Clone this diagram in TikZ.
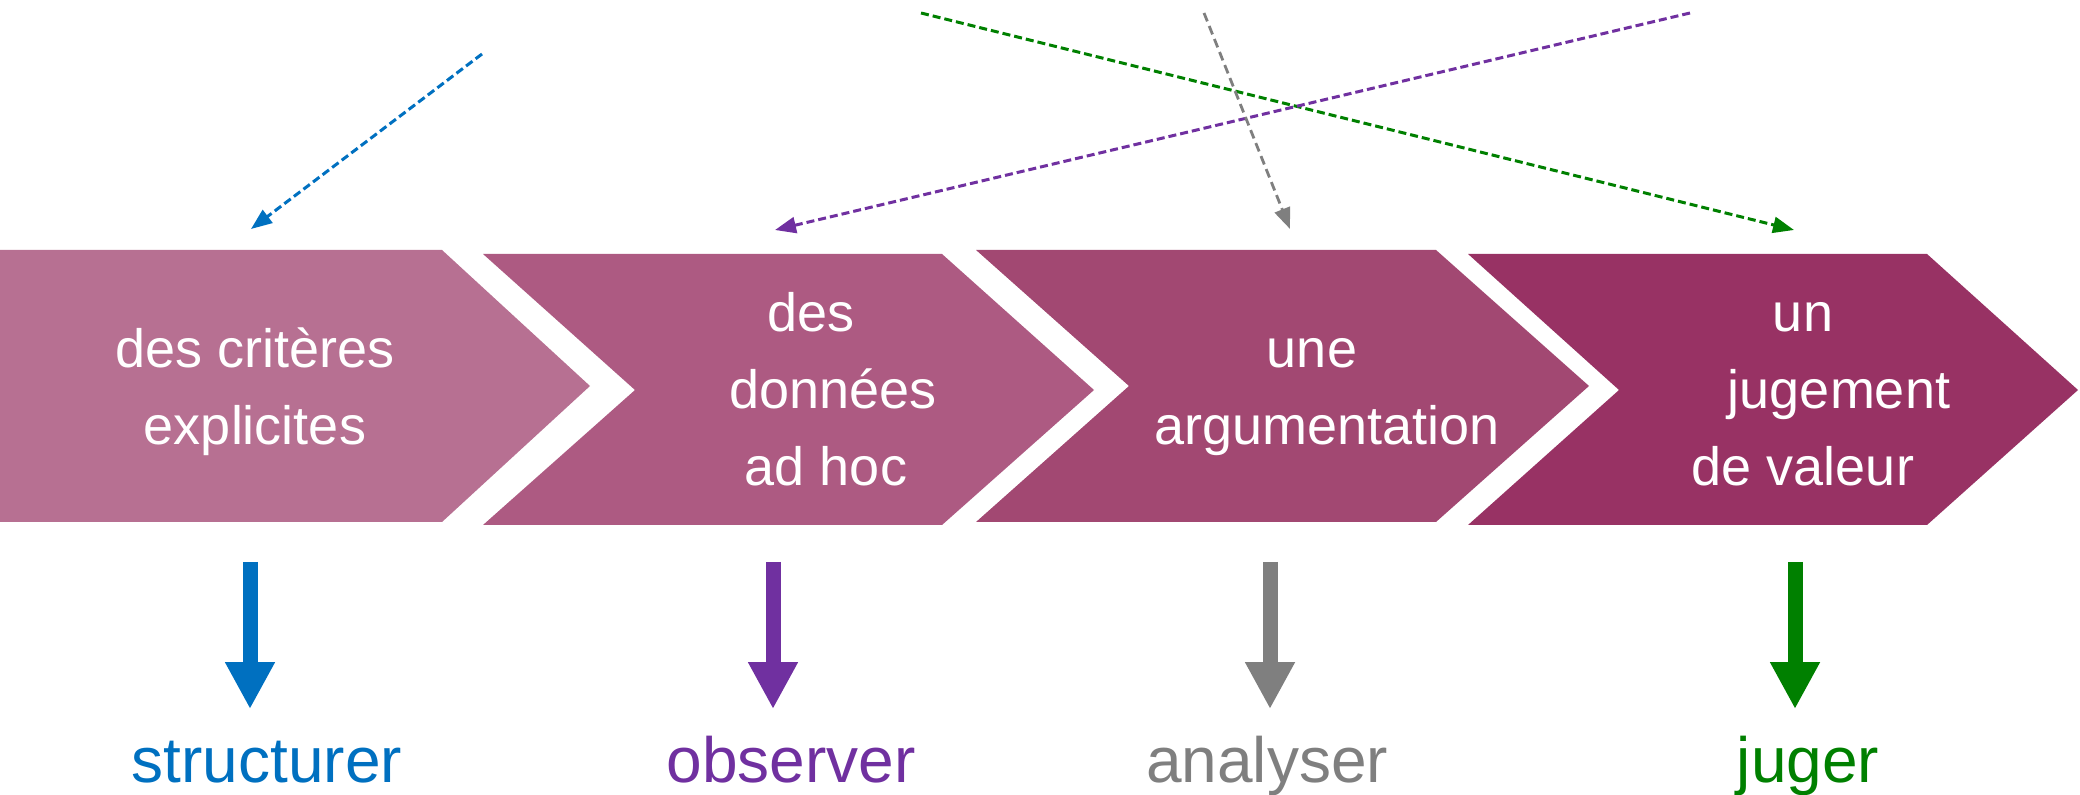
\documentclass[tikz,border=0pt]{standalone}
\usepackage{fontspec}
\setmainfont{Liberation Sans}
\usetikzlibrary{arrows.meta}
\definecolor{cA}{HTML}{B77092}
\definecolor{cB}{HTML}{AD5A82}
\definecolor{cC}{HTML}{A24872}
\definecolor{cD}{HTML}{983264}
\definecolor{kblue}{HTML}{0070C0}
\definecolor{kpurple}{HTML}{7030A0}
\definecolor{kgray}{HTML}{7F7F7F}
\definecolor{kgreen}{HTML}{008000}
\tikzset{
  ctext/.style={text=white, align=center, inner sep=0pt, anchor=base,
    font=\fontsize{27pt}{38.5pt}\selectfont},
  verb/.style={inner sep=0pt, anchor=base, font=\fontsize{32pt}{38pt}\selectfont},
  hint/.style={line width=1.5pt, dash pattern=on 4pt off 2pt,
    -{Triangle[length=10.5pt,width=8pt]}},
  hintgray/.style={line width=1.4pt, dash pattern=on 4.5pt off 2.5pt,
    -{Triangle[length=10.5pt,width=8pt]}},
  blockarrow/.style={line width=7.5pt, -{Triangle[length=23.5pt,width=23.5pt]}},
}
\begin{document}
\begin{tikzpicture}[x=0.5pt,y=-0.5pt]
\useasboundingbox (0,0) rectangle (2080,795);
% chevrons
\fill[cA] (0,250) -- (442,250) -- (590,386) -- (442,522) -- (0,522) -- cycle;
\fill[cB] (483,254) -- (942,254) -- (1094,390) -- (942,525) -- (483,525) -- (635,390) -- cycle;
\fill[cC] (976,250) -- (1436,250) -- (1589,386) -- (1436,522) -- (976,522) -- (1129,386) -- cycle;
\fill[cD] (1468,254) -- (1927,254) -- (2078,390) -- (1927,525) -- (1468,525) -- (1619,390) -- cycle;
% chevron texts (anchor = baseline of last line)
\node[ctext] (t1) at (255,445) {des critères\\explicites};
\node[ctext] (t2) at (826,486) {des\hspace*{15pt}\\\hspace*{7pt}données\\ad hoc};
\node[ctext] (t3) at (1320,445) {une\hspace*{8pt}\\\hspace*{7pt}argumentation};
\node[ctext] (t4) at (1803,486) {un\\\hspace*{36pt}jugement\\de valeur};
% dashed hint arrows
\coordinate (bs) at (482,54);   \coordinate (bt) at (251,229);
\coordinate (ps) at (1690,13);  \coordinate (pt) at (775,230);
\coordinate (gs) at (1204,13);  \coordinate (gt) at (1290,229);
\coordinate (ns) at (921,13);   \coordinate (nt) at (1794,230);
\draw[hint, kblue] (bs) -- (bt);
\draw[hint, kgreen] (ns) -- (nt);
\draw[hint, kpurple] (ps) -- (pt);
\draw[hintgray, kgray] (gs) -- (gt);
% verbs
\node[verb, text=kblue] (v1) at (267,782) {structurer};
\node[verb, text=kpurple] (v2) at (791,782) {observer};
\node[verb, text=kgray] (v3) at (1267,782) {analyser};
\node[verb, text=kgreen] (v4) at (1808,782) {juger};
% block arrows
\coordinate (a1) at (250,562); \coordinate (b1) at (250,709);
\coordinate (a2) at (773,562); \coordinate (b2) at (773,709);
\coordinate (a3) at (1270,562); \coordinate (b3) at (1270,709);
\coordinate (a4) at (1795,562); \coordinate (b4) at (1795,709);
\draw[blockarrow, kblue] (a1) -- (b1);
\draw[blockarrow, kpurple] (a2) -- (b2);
\draw[blockarrow, kgray] (a3) -- (b3);
\draw[blockarrow, kgreen] (a4) -- (b4);
\end{tikzpicture}
\end{document}
